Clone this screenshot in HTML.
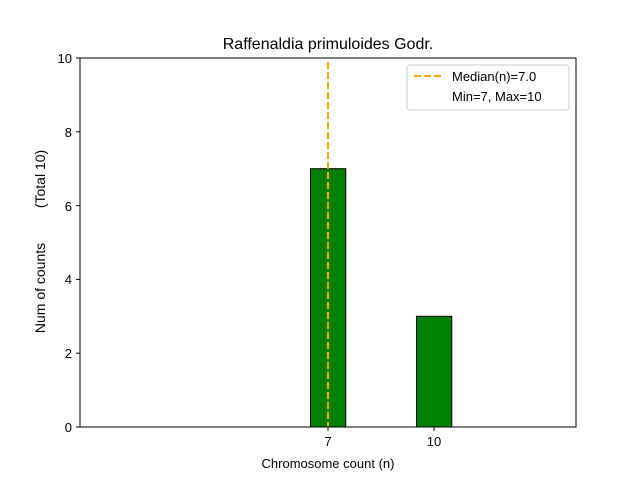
<!DOCTYPE html>
<html><head><meta charset="utf-8"><style>body{margin:0;background:#fff}svg{display:block}</style></head><body>
<svg width="640" height="480" xmlns="http://www.w3.org/2000/svg" font-family="'Liberation Sans','DejaVu Sans',sans-serif">
<rect width="640" height="480" fill="#fff"/>
<rect x="310.5" y="168.7" width="35.3" height="258.3" fill="#008000" stroke="#000" stroke-width="1"/>
<rect x="416.5" y="316.3" width="35.3" height="110.7" fill="#008000" stroke="#000" stroke-width="1"/>
<line x1="80" y1="427" x2="557" y2="427" stroke="#000" stroke-width="1"/>
<line x1="328" y1="62" x2="328" y2="427" stroke="#ffa500" stroke-width="2" stroke-dasharray="7,3"/>
<rect x="80" y="58" width="496" height="369" fill="none" stroke="#000" stroke-width="1"/>
<g stroke="#000">
<line x1="80" y1="427" x2="76" y2="427"/><line x1="80" y1="353.2" x2="76" y2="353.2"/>
<line x1="80" y1="279.4" x2="76" y2="279.4"/><line x1="80" y1="205.6" x2="76" y2="205.6"/>
<line x1="80" y1="131.8" x2="76" y2="131.8"/><line x1="80" y1="58" x2="76" y2="58"/>
<line x1="328" y1="427" x2="328" y2="431"/><line x1="434" y1="427" x2="434" y2="431"/>
</g>
<g font-size="13" fill="#000" text-anchor="end">
<text x="72" y="432">0</text><text x="72" y="358">2</text><text x="72" y="284">4</text>
<text x="72" y="211">6</text><text x="72" y="137">8</text><text x="72" y="63">10</text>
</g>
<g font-size="13" text-anchor="middle">
<text x="328" y="446">7</text><text x="434" y="446">10</text>
<text x="328" y="468">Chromosome count (n)</text>
<text x="328" y="49" font-size="16">Raffenaldia primuloides Godr.</text>
<text transform="translate(45,288) rotate(-90)" font-size="14">Num of counts</text>
<text transform="translate(45,179) rotate(-90)" font-size="14">(Total 10)</text>
</g>
<rect x="407" y="65" width="162" height="45" rx="3" fill="#fff" stroke="#ccc"/>
<line x1="414" y1="76" x2="442" y2="76" stroke="#ffa500" stroke-width="2" stroke-dasharray="7,3"/>
<text x="452" y="81" font-size="13">Median(n)=7.0</text>
<text x="452" y="101" font-size="13">Min=7, Max=10</text>
</svg>
</body></html>
